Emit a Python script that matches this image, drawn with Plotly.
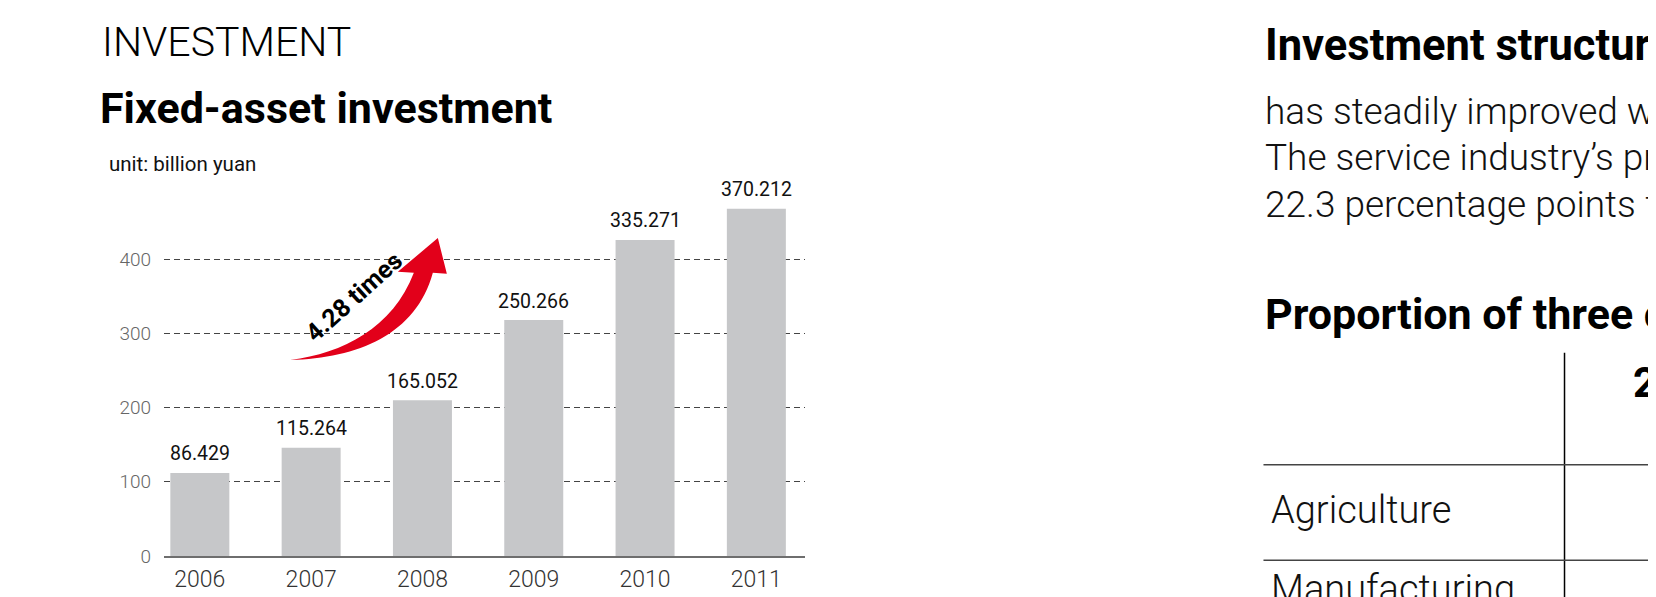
import plotly.graph_objects as go

# ---------------- data ----------------
years = ["2006", "2007", "2008", "2009", "2010", "2011"]
label_values = [86.429, 115.264, 165.052, 250.266, 335.271, 370.212]   # printed labels (billion yuan)
bar_heights = [112, 146, 210, 318, 426, 468]                          # bar tops as read on the axis
y_ticks = [0, 100, 200, 300, 400]
growth_text = "4.28 times"

W, H = 1656, 597
# plot area (pixels)
PL, PR, PT, PB = 155.7, 796.6, 177.0, 559.7

def px(x):
    return (x - PL) / (PR - PL)

def py(y):
    return (PB - y) / (PB - PT)

xpos = list(range(len(years)))
fig = go.Figure()

fig.add_trace(go.Bar(
    x=xpos, y=bar_heights, width=0.53,
    marker=dict(color="#c6c7c9", line=dict(width=0)),
    hoverinfo="skip", showlegend=False,
))

# value labels above bars
for xi, h, v in zip(xpos, bar_heights, label_values):
    fig.add_annotation(x=xi, y=h, xref="x", yref="y", text=f"{v:.3f}", showarrow=False,
                       xanchor="center", yanchor="middle", yshift=19,
                       font=dict(family="Roboto", size=19.5, color="#111", weight=400))

# red curved arrow (decoration)
DX, DY = -10.5, -5.4
def P(x, y):
    return f"{px(x + DX):.5f},{py(y + DY):.5f}"

arrow_path = (
    "M " + P(292.5, 363)
    + " C " + P(345, 356) + " " + P(395, 330) + " " + P(416, 273)
    + " L " + P(400, 272)
    + " L " + P(440, 237)
    + " L " + P(449, 274)
    + " L " + P(435, 273)
    + " C " + P(418, 337) + " " + P(360, 361) + " " + P(292.5, 363)
    + " Z"
)
fig.add_shape(type="path", xref="paper", yref="paper", path=arrow_path,
              fillcolor="#e2001a", line=dict(width=0), layer="above")

fig.add_annotation(xref="paper", yref="paper", x=px(346), y=py(292),
                   xanchor="center", yanchor="middle",
                   text=f"<b>{growth_text}</b>", showarrow=False, textangle=-42,
                   font=dict(family="Roboto", size=25, color="#000"))

# ---------------- titles (left) ----------------
fig.add_annotation(xref="paper", yref="paper", x=px(92), y=py(29), xanchor="left", yanchor="middle",
                   text="INVESTMENT", showarrow=False,
                   font=dict(family="Roboto", size=41, color="#000", weight=300))
fig.add_annotation(xref="paper", yref="paper", x=px(90), y=py(98), xanchor="left", yanchor="middle",
                   text="<b>Fixed-asset investment</b>", showarrow=False,
                   font=dict(family="Roboto", size=43, color="#000"))
fig.add_annotation(xref="paper", yref="paper", x=px(99), y=py(155), xanchor="left", yanchor="middle",
                   text="unit: billion yuan", showarrow=False,
                   font=dict(family="Roboto", size=20.5, color="#111", weight=400))

# ---------------- right panel ----------------
RX = 1255
fig.add_annotation(xref="paper", yref="paper", x=px(RX), y=py(33), xanchor="left", yanchor="middle",
                   text="<b>Investment structure</b>", showarrow=False,
                   font=dict(family="Roboto", size=43.5, color="#000"))
body_lines = ["has steadily improved w", "The service industry\u2019s pr", "22.3 percentage points f"]
for i, line in enumerate(body_lines):
    fig.add_annotation(xref="paper", yref="paper", x=px(RX), y=py(101 + 48 * i),
                       xanchor="left", yanchor="middle", text=line, showarrow=False,
                       font=dict(family="Roboto", size=37, color="#111", weight=300))
fig.add_annotation(xref="paper", yref="paper", x=px(RX), y=py(310), xanchor="left", yanchor="middle",
                   text="<b>Proportion of three c</b>", showarrow=False,
                   font=dict(family="Roboto", size=43, color="#000"))
fig.add_annotation(xref="paper", yref="paper", x=px(1622), y=py(381), xanchor="left", yanchor="middle",
                   text="<b>2</b>", showarrow=False,
                   font=dict(family="Roboto", size=42, color="#000"))
row_labels = ["Agriculture", "Manufacturing"]
row_y = [512, 594]
for r, ry in zip(row_labels, row_y):
    fig.add_annotation(xref="paper", yref="paper", x=px(1261), y=py(ry),
                       xanchor="left", yanchor="middle", text=r, showarrow=False,
                       font=dict(family="Roboto", size=38, color="#111", weight=300))

# table rules
fig.add_shape(type="line", xref="paper", yref="paper", x0=px(1556), x1=px(1556), y0=py(350), y1=py(620),
              line=dict(color="#000", width=1.5))
for yy in (465.5, 564):
    fig.add_shape(type="line", xref="paper", yref="paper", x0=px(1255), x1=px(1700), y0=py(yy), y1=py(yy),
                  line=dict(color="#444", width=1.5))

fig.update_layout(
    width=W, height=H,
    margin=dict(l=PL, r=W - PR, t=PT, b=H - PB, pad=0),
    paper_bgcolor="white", plot_bgcolor="white",
    xaxis=dict(range=[-0.322, 5.437], tickvals=xpos, ticktext=years,
               showgrid=False, zeroline=False,
               showline=True, linecolor="#6e6e6e", linewidth=2, layer="below traces",
               ticks="", ticklabelstandoff=1,
               tickfont=dict(family="Roboto", size=23, color="#333", weight=300)),
    yaxis=dict(range=[0, 500], tickvals=y_ticks, showgrid=True, gridcolor="#444", gridwidth=1,
               griddash="6px,4px", zeroline=False, showline=False, ticks="",
               ticklabelstandoff=12,
               tickfont=dict(family="Roboto", size=19, color="#666", weight=300)),
)

fig.write_html("out.html")
